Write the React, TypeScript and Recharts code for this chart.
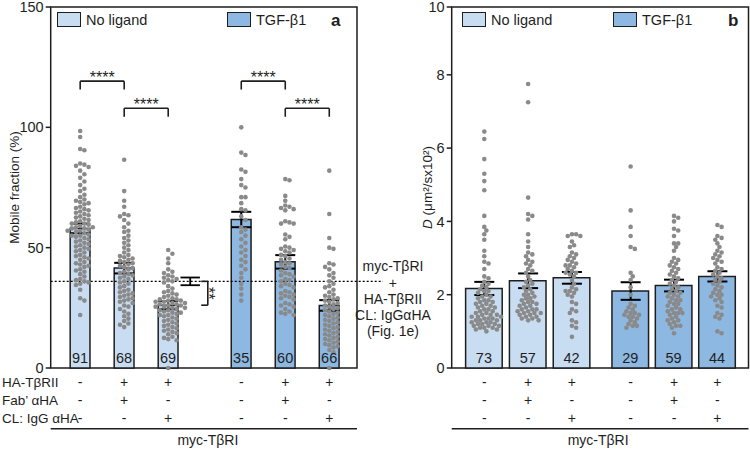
import React from "react";
import {
  ComposedChart,
  Bar,
  Cell,
  Scatter,
  ErrorBar,
  XAxis,
  YAxis,
  ReferenceLine,
  ReferenceArea,
  LabelList,
  Legend,
} from "recharts";

const FONT = '"Liberation Sans", Arial, sans-serif';
const INK = "#1e1e1e";
const LIGHT = "#c8ddf2";
const DARK = "#8db8e2";
const DOT = "#8a8a8a";

// conditions printed under each bar
const ligand = ["none", "none", "none", "tgf", "tgf", "tgf"];
const haTbRII = ["-", "+", "+", "-", "+", "+"];
const fabHA = ["-", "+", "-", "-", "+", "-"];
const clIgG = ["-", "-", "+", "-", "-", "+"];
const rowLabels = ["HA-TβRII", "Fab’ αHA", "CL: IgG αHA"];
const groupLabel = "myc-TβRI";

const legendItems = [
  { label: "No ligand", color: LIGHT },
  { label: "TGF-β1", color: DARK },
];

// x slots, the ligand groups are split by a gap
const slotsA = [1, 2, 3, 4.66, 5.66, 6.66];
const slotsB = [1, 2, 3, 4.34, 5.33, 6.32];

// panel a: mobile fraction (%)
const mobileMean = [58, 41.5, 26.1, 61.7, 44.1, 26];
const mobileSem = [2, 2.2, 1.7, 3.2, 2.8, 2.2];
const mobileN = [91, 68, 69, 35, 60, 66];
const mobileDots = [
  [98.5, 96, 91, 90.5, 85, 84.5, 84, 83.5, 82, 80.5, 79, 77.5, 76, 74.5, 73.5, 72, 71, 70, 69.5, 69, 68.5, 68, 67, 66.5, 66, 65.5, 65, 64.5, 64, 63.5, 63, 62.5, 62, 61.5, 61, 60.5, 60, 60, 59.5, 59, 58.5, 58.5, 58, 58, 57.5, 57, 57, 56.5, 56, 55.5, 55, 55, 54.5, 54, 53.5, 53, 52.5, 52, 51.5, 51, 50.5, 50, 49.5, 49, 48.5, 48, 47, 46.5, 46, 45.5, 45, 44, 43.5, 43, 42.5, 42, 41, 40.5, 40, 39, 38, 37, 36.5, 36, 35.5, 35, 34.5, 32.5, 29, 28, 22],
  [86.5, 73.5, 69.5, 67, 64, 63.5, 63, 61.5, 60, 58.5, 57, 56.5, 55, 54, 53, 52, 51, 50, 49, 48, 47, 46.5, 46, 45.5, 45, 44.5, 44, 43.5, 43, 42.5, 42, 41.5, 41, 40, 39.5, 39, 38.5, 38, 37.5, 37, 36, 35.5, 35, 34, 33.5, 32.5, 32, 31.5, 31, 30.5, 30, 29.5, 29, 28.5, 28, 27.5, 27, 26, 25.5, 24.5, 23.5, 22.5, 21.5, 20.5, 19.5, 18.5, 18, 17],
  [49, 47.5, 45.5, 43.5, 41, 40, 39.5, 38.5, 38, 37.5, 37, 36.5, 36, 35.5, 34, 33, 32, 31.5, 31, 30.5, 30, 29.5, 29, 28.5, 28.5, 28, 28, 27.5, 27.5, 27, 27, 26.5, 26.5, 26, 26, 25.5, 25.5, 25, 25, 24.5, 24, 24, 23.5, 23, 23, 22.5, 22, 22, 21.5, 21, 20.5, 20, 19.5, 19, 18.5, 18, 17.5, 17, 16.5, 16, 15.5, 15, 14.5, 14, 13, 12.5, 12, 11.5, 0],
  [100, 89.5, 88.5, 82.5, 81.5, 78.5, 76, 75, 71, 71, 68.5, 66, 65.5, 63, 61.5, 58.5, 57.5, 56.5, 55, 53.5, 52, 50.5, 49, 48, 46.5, 45, 44, 42.5, 41, 39.5, 37.5, 35, 33, 30.5, 28],
  [78.5, 78, 71.5, 69.5, 67.5, 67, 66.5, 66, 65.5, 61, 60.5, 60, 60, 55.5, 54.5, 53.5, 50.5, 50, 49.5, 49, 48.5, 48, 47, 46.5, 45.5, 45, 44, 43.5, 43, 42, 41.5, 40.5, 39.5, 39, 38.5, 38, 37, 36.5, 36, 35, 34.5, 34, 33.5, 32, 31.5, 31, 30.5, 30, 29.5, 29, 28.5, 27, 26.5, 26, 25.5, 24.5, 23.5, 23, 22.5, 22],
  [82, 64, 54, 50, 49.5, 43.5, 43, 42, 41, 39.5, 38.5, 37.5, 36, 35, 34, 33.5, 32.5, 31.5, 30.5, 30, 29.5, 29, 28.5, 28, 27.5, 27, 26.5, 26, 25.5, 25, 24.5, 24, 23.5, 23, 22.5, 22, 21.5, 21, 20.5, 20, 19.5, 19, 18.5, 18, 17.5, 17, 16.5, 16, 15.5, 15, 14.5, 14, 13.5, 13, 12.5, 12, 11.5, 11, 10.5, 10, 9.5, 9, 8.5, 7.5, 6.5, 0],
];

// panel b: diffusion coefficient D (µm²/s x10²)
const diffMean = [2.17, 2.38, 2.46, 2.1, 2.25, 2.5];
const diffSem = [0.18, 0.2, 0.16, 0.24, 0.16, 0.14];
const diffN = [73, 57, 42, 29, 59, 44];
const diffDots = [
  [6.45, 6.25, 5.7, 5.3, 5.1, 4.85, 4.15, 3.85, 3.75, 3.65, 3.5, 3.2, 3.05, 2.9, 2.85, 2.7, 2.5, 2.45, 2.35, 2.3, 2.25, 2.2, 2.15, 2.1, 2.1, 2.05, 2.0, 1.95, 1.95, 1.9, 1.85, 1.85, 1.8, 1.75, 1.75, 1.7, 1.7, 1.65, 1.6, 1.6, 1.55, 1.55, 1.5, 1.5, 1.45, 1.45, 1.45, 1.4, 1.4, 1.4, 1.35, 1.35, 1.35, 1.3, 1.3, 1.3, 1.25, 1.25, 1.25, 1.2, 1.2, 1.2, 1.15, 1.15, 1.15, 1.1, 1.1, 1.1, 1.05, 1.05, 1.0, 1.8, 1.65],
  [7.75, 7.25, 4.65, 4.2, 4.15, 4.05, 3.65, 3.45, 3.3, 3.15, 3.1, 3.05, 2.95, 2.9, 2.85, 2.8, 2.7, 2.65, 2.6, 2.5, 2.4, 2.35, 2.3, 2.25, 2.2, 2.15, 2.1, 2.05, 2.0, 1.95, 1.9, 1.9, 1.85, 1.8, 1.8, 1.75, 1.7, 1.7, 1.65, 1.6, 1.6, 1.55, 1.55, 1.5, 1.5, 1.5, 1.45, 1.45, 1.4, 1.4, 1.35, 1.35, 1.3, 1.3, 1.6, 1.75, 2.0],
  [3.65, 3.65, 3.6, 3.6, 3.45, 3.35, 3.3, 3.15, 3.1, 3.05, 3.0, 2.95, 2.9, 2.85, 2.8, 2.8, 2.75, 2.7, 2.65, 2.6, 2.6, 2.55, 2.5, 2.2, 2.15, 2.1, 2.1, 2.05, 2.0, 1.95, 1.8, 1.75, 1.6, 1.55, 1.5, 1.3, 1.25, 1.15, 1.1, 0.85, 2.4, 2.3],
  [5.5, 4.3, 3.85, 3.6, 3.3, 3.25, 2.6, 2.5, 2.4, 2.2, 2.0, 1.75, 1.7, 1.65, 1.6, 1.55, 1.5, 1.45, 1.45, 1.4, 1.4, 1.35, 1.3, 1.25, 1.2, 1.15, 1.15, 1.1, 1.5],
  [4.15, 4.1, 4.0, 3.8, 3.75, 3.6, 3.4, 3.4, 3.3, 3.2, 2.95, 2.9, 2.85, 2.8, 2.75, 2.65, 2.6, 2.55, 2.5, 2.45, 2.4, 2.35, 2.3, 2.25, 2.2, 2.15, 2.1, 2.05, 2.05, 2.0, 1.95, 1.95, 1.9, 1.85, 1.85, 1.8, 1.75, 1.75, 1.7, 1.65, 1.6, 1.6, 1.55, 1.5, 1.5, 1.45, 1.4, 1.35, 1.3, 1.3, 1.25, 1.2, 1.15, 1.15, 1.1, 0.95, 2.7, 3.0, 1.5],
  [3.9, 3.85, 3.6, 3.55, 3.5, 3.4, 3.3, 3.2, 3.15, 3.1, 3.0, 2.95, 2.9, 2.85, 2.75, 2.7, 2.65, 2.6, 2.5, 2.45, 2.4, 2.35, 2.3, 2.2, 2.15, 2.1, 2.05, 2.0, 2.0, 1.95, 1.9, 1.85, 1.8, 1.7, 1.65, 1.5, 1.45, 1.4, 1.35, 1.0, 0.95, 2.55, 2.25, 3.05],
];

// significance brackets in panel a (bar indices)
const sigBrackets = [
  { from: 0, to: 1, y: 119.2, text: "****" },
  { from: 1, to: 2, y: 107.9, text: "****" },
  { from: 3, to: 4, y: 119.2, text: "****" },
  { from: 4, to: 5, y: 107.9, text: "****" },
];
const BRACKET_DROP = 3.5;
// reference value from Fig. 1e (myc-TβRI + HA-TβRII, CL: IgGαHA)
const fig1e = [{ x: 3.5, value: 36, err: 1.6 }];
const fig1eCompare = { x1: 3.75, x2: 3.9, text: "**" };
const fig1eNote = ["myc-TβRI", "+", "HA-TβRII", "CL: IgGαHA", "(Fig. 1e)"];

const ROW_Y = [13.7, 32.3, 50.3];
const PLOT_H = 361;

// simple deterministic beeswarm: shift dots sideways until they stop overlapping
function swarm(values: number[], pxPerUnit: number) {
  const STEP = 2.1;
  const GAP = 4.2;
  const placed: { dx: number; py: number }[] = [];
  return [...values]
    .sort((a, b) => b - a)
    .map((v) => {
      const py = v * pxPerUnit;
      let dx = 0;
      for (let k = 0; k < 80; k++) {
        const cand = (k % 2 ? 1 : -1) * Math.ceil(k / 2) * STEP;
        if (placed.every((p) => (p.dx - cand) ** 2 + (p.py - py) ** 2 >= GAP * GAP)) {
          dx = cand;
          break;
        }
      }
      placed.push({ dx, py });
      return { v, dx };
    });
}

const DotShape = (p: any) => (
  <circle cx={p.cx + (p.payload?.dx ?? 0)} cy={p.cy} r={2.3} fill={DOT} />
);
const NoShape = () => <g />;

const conditionTick = (slots: number[]) => (props: any) => {
  const { x, y, payload } = props;
  const i = slots.findIndex((s) => Math.abs(s - payload.value) < 1e-6);
  if (i < 0) return <g />;
  return (
    <g>
      {[haTbRII, fabHA, clIgG].map((row, r) => (
        <text key={r} x={x} y={y + ROW_Y[r]} textAnchor="middle" dominantBaseline="central" fontSize={14} fill={INK}>
          {row[i]}
        </text>
      ))}
    </g>
  );
};

const footer = (withRowLabels: boolean, shift: number) => (props: any) => {
  const { x = 0, y = 0, width = 0 } = props.viewBox ?? {};
  return (
    <g fill={INK} fontSize={14}>
      {withRowLabels &&
        rowLabels.map((t, r) => (
          <text key={t} x={2} y={y + ROW_Y[r] + (r === 0 ? 1 : 0)} dominantBaseline="central" fontSize={13.5}>
            {t}
          </text>
        ))}
      <line x1={x} x2={x + width} y1={y + 60.7} y2={y + 60.7} stroke={INK} strokeWidth={1.5} />
      <text x={x + width / 2 + shift} y={y + 72} textAnchor="middle" dominantBaseline="central">
        {groupLabel}
      </text>
    </g>
  );
};

const legendContent = (letter: string, secondLeft: number, letterLeft: number) => () => (
  <div style={{ position: "relative", height: 15, fontFamily: FONT, fontSize: 14.5, color: INK }}>
    {legendItems.map((it, i) => (
      <div key={it.label} style={{ position: "absolute", left: i === 0 ? 0 : secondLeft, top: 0, display: "flex", alignItems: "center", height: 15 }}>
        <span style={{ boxSizing: "border-box", width: 24, height: 14.5, background: it.color, border: `1.5px solid ${INK}`, marginRight: 5 }} />
        <span>{it.label}</span>
      </div>
    ))}
    <div style={{ position: "absolute", left: letterLeft, top: -1, fontWeight: "bold", fontSize: 17 }}>{letter}</div>
  </div>
);

type PanelProps = {
  left: number;
  width: number;
  rightMargin: number;
  yAxisWidth: number;
  slots: number[];
  xDomain: [number, number];
  yMax: number;
  yTicks: number[];
  means: number[];
  sems: number[];
  ns: number[];
  dots: number[][];
  yLabel: React.ReactNode;
  yLabelX: number;
  legendLeft: number;
  legendSecond: number;
  letter: string;
  letterLeft: number;
  withRowLabels: boolean;
  footerShift: number;
  children?: React.ReactNode;
};

function Panel(p: PanelProps) {
  const rows = p.slots.map((x, i) => ({ x, value: p.means[i], err: p.sems[i], n: p.ns[i], ligand: ligand[i] }));
  const pxPerUnit = PLOT_H / p.yMax;
  const points = p.dots.flatMap((vals, i) => swarm(vals, pxPerUnit).map((d) => ({ x: p.slots[i], y: d.v, dx: d.dx })));
  return (
    <div style={{ position: "absolute", left: p.left, top: 0 }}>
      <ComposedChart
        width={p.width}
        height={451}
        data={rows}
        margin={{ top: 7, right: p.rightMargin, bottom: 0, left: 0 }}
        style={{ fontFamily: FONT }}
      >
        <XAxis
          type="number"
          dataKey="x"
          domain={p.xDomain}
          ticks={p.slots}
          interval={0}
          axisLine={false}
          tickLine={false}
          tickSize={0}
          tickMargin={0}
          height={83}
          tick={conditionTick(p.slots)}
          label={footer(p.withRowLabels, p.footerShift)}
        />
        <YAxis
          type="number"
          domain={[0, p.yMax]}
          ticks={p.yTicks}
          interval={0}
          width={p.yAxisWidth}
          axisLine={false}
          tickSize={5}
          tickMargin={2}
          tickLine={{ stroke: INK, strokeWidth: 1.5 }}
          tick={{ fill: INK, fontSize: 14.5 }}
          tickFormatter={(v: number) => (v > 9 && v < 10 ? "10" : String(v))}
          label={() => (
            <text
              x={p.yLabelX}
              y={7 + PLOT_H / 2}
              transform={`rotate(-90, ${p.yLabelX}, ${7 + PLOT_H / 2})`}
              textAnchor="middle"
              dominantBaseline="central"
              fontSize={13.5}
              fill={INK}
            >
              {p.yLabel}
            </text>
          )}
        />
        <Legend
          layout="vertical"
          align="center"
          verticalAlign="middle"
          wrapperStyle={{ top: 12, left: p.legendLeft, width: 300, height: 16 }}
          content={legendContent(p.letter, p.legendSecond, p.letterLeft)}
        />
        <Bar dataKey="value" barSize={36.6} stroke={INK} strokeWidth={1.5} isAnimationActive={false} legendType="none">
          {rows.map((r) => (
            <Cell key={r.x} fill={r.ligand === "tgf" ? DARK : LIGHT} />
          ))}
          <LabelList dataKey="n" position="insideBottom" offset={5} fill={INK} fontSize={14.5} />
        </Bar>
        {p.children}
        <Scatter data={points} dataKey="y" shape={DotShape} isAnimationActive={false} legendType="none" />
        <Scatter data={rows} dataKey="value" shape={NoShape} isAnimationActive={false} legendType="none">
          <ErrorBar dataKey="err" direction="y" width={10} stroke="#000" strokeWidth={2} />
        </Scatter>
        <ReferenceArea
          x1={p.xDomain[0]}
          x2={p.xDomain[1]}
          y1={0}
          y2={p.yMax}
          fill="none"
          stroke={INK}
          strokeWidth={1.5}
          ifOverflow="visible"
        />
      </ComposedChart>
    </div>
  );
}

function PanelAExtras() {
  const fig1eMean = fig1e[0].value;
  return (
    <>
      <ReferenceLine
        segment={[{ x: 0.33, y: fig1eMean }, { x: 7.88, y: fig1eMean }]}
        stroke="#000"
        strokeWidth={1.3}
        strokeDasharray="2 2"
        ifOverflow="visible"
        label={(props: any) => {
          const { x = 0, y = 0, width = 0 } = props.viewBox ?? {};
          const cx = x + width + 10;
          const offs = [-15.2, 1.3, 17.6, 33.8, 49.8];
          return (
            <g fill={INK} fontSize={14}>
              {fig1eNote.map((t, i) => (
                <text key={i} x={cx} y={y + offs[i]} textAnchor="middle" dominantBaseline="central">
                  {t}
                </text>
              ))}
            </g>
          );
        }}
      />
      <Scatter data={fig1e} dataKey="value" shape={NoShape} isAnimationActive={false} legendType="none">
        <ErrorBar dataKey="err" direction="y" width={9.7} stroke="#000" strokeWidth={1.8} />
      </Scatter>
      {sigBrackets.map((b, i) => {
        const x1 = slotsA[b.from];
        const x2 = slotsA[b.to];
        return (
          <React.Fragment key={i}>
            <ReferenceLine
              segment={[{ x: x1, y: b.y }, { x: x2, y: b.y }]}
              stroke={INK}
              strokeWidth={1.6}
              ifOverflow="visible"
              label={{ value: b.text, position: "top", offset: -2, fontSize: 16, fill: INK }}
            />
            <ReferenceLine segment={[{ x: x1, y: b.y }, { x: x1, y: b.y - BRACKET_DROP }]} stroke={INK} strokeWidth={1.6} ifOverflow="visible" />
            <ReferenceLine segment={[{ x: x2, y: b.y }, { x: x2, y: b.y - BRACKET_DROP }]} stroke={INK} strokeWidth={1.6} ifOverflow="visible" />
          </React.Fragment>
        );
      })}
      <ReferenceLine segment={[{ x: fig1eCompare.x1, y: fig1eMean }, { x: fig1eCompare.x2, y: fig1eMean }]} stroke={INK} strokeWidth={1.6} ifOverflow="visible" />
      <ReferenceLine segment={[{ x: fig1eCompare.x1, y: mobileMean[2] }, { x: fig1eCompare.x2, y: mobileMean[2] }]} stroke={INK} strokeWidth={1.6} ifOverflow="visible" />
      <ReferenceLine
        segment={[{ x: fig1eCompare.x2, y: fig1eMean }, { x: fig1eCompare.x2, y: mobileMean[2] }]}
        stroke={INK}
        strokeWidth={1.6}
        ifOverflow="visible"
        label={(props: any) => {
          const { x = 0, y = 0, height = 0 } = props.viewBox ?? {};
          const tx = x - 5;
          const ty = y + height / 2;
          return (
            <text x={tx} y={ty} transform={`rotate(90, ${tx}, ${ty})`} textAnchor="middle" fontSize={16} fill={INK}>
              {fig1eCompare.text}
            </text>
          );
        }}
      />
    </>
  );
}

export default function App() {
  return (
    <div style={{ position: "absolute", left: 0, top: 0, width: 750, height: 451, background: "#fff", fontFamily: FONT }}>
      <Panel
        left={0}
        width={450}
        rightMargin={93}
        yAxisWidth={50.7}
        slots={slotsA}
        xDomain={[0.33, 7.29]}
        yMax={150}
        yTicks={[0, 50, 100, 150]}
        means={mobileMean}
        sems={mobileSem}
        ns={mobileN}
        dots={mobileDots}
        yLabel="Mobile fraction (%)"
        yLabelX={14}
        legendLeft={57}
        legendSecond={170}
        letter="a"
        letterLeft={274}
        withRowLabels
        footerShift={4}
      >
        <PanelAExtras />
      </Panel>
      <Panel
        left={380}
        width={370}
        rightMargin={1.5}
        yAxisWidth={71.7}
        slots={slotsB}
        xDomain={[0.256, 7.03]}
        yMax={9.85}
        yTicks={[0, 2, 4, 6, 8, 9.85]}
        means={diffMean}
        sems={diffSem}
        ns={diffN}
        dots={diffDots}
        yLabel={
          <>
            <tspan fontStyle="italic">D</tspan> (μm²/sx10²)
          </>
        }
        yLabelX={47}
        legendLeft={82}
        legendSecond={151}
        letter="b"
        letterLeft={266}
        withRowLabels={false}
        footerShift={-2}
      />
    </div>
  );
}
